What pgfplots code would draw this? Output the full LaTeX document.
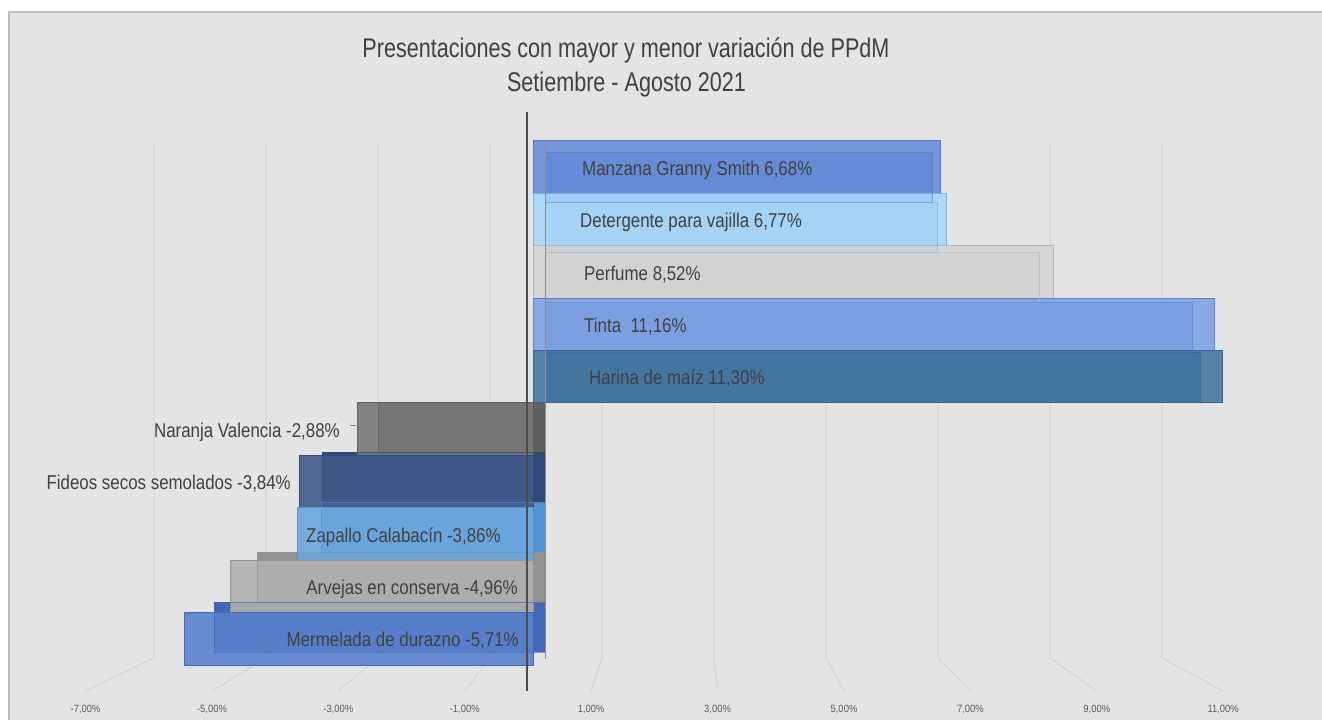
\documentclass[border=0pt]{standalone}
\usepackage{pgfplots}
\pgfplotsset{compat=1.18}
\usepackage{fontspec}
\setmainfont{Liberation Sans}
\newfontfamily\titlefont{Liberation Sans}[FakeStretch=0.8]
\newfontfamily\labfont{Liberation Sans}[FakeStretch=0.845]
\newfontfamily\tickfont{Liberation Sans}[FakeStretch=0.9]

\definecolor{bg}{HTML}{E4E4E4}
\definecolor{frm}{HTML}{BDBDBD}
\definecolor{gridc}{HTML}{D5D5D5}
\definecolor{txt}{HTML}{404040}
\definecolor{ticktxt}{HTML}{595959}
\definecolor{mzF}{HTML}{6A8FD9}\definecolor{mzD}{HTML}{5275C6}
\definecolor{deF}{HTML}{A9D7F8}\definecolor{deD}{HTML}{78B6EA}
\definecolor{peF}{HTML}{D5D5D5}\definecolor{peD}{HTML}{B8B8B8}
\definecolor{tiF}{HTML}{80A3E4}\definecolor{tiD}{HTML}{5C82D2}
\definecolor{haF}{HTML}{4678A3}\definecolor{haD}{HTML}{34638F}
\definecolor{naF}{HTML}{787878}\definecolor{naD}{HTML}{5F5F5F}
\definecolor{fiF}{HTML}{405B89}\definecolor{fiD}{HTML}{304B7A}
\definecolor{zaF}{HTML}{6CA8DE}\definecolor{zaD}{HTML}{5393D2}
\definecolor{arF}{HTML}{B0B0B0}\definecolor{arD}{HTML}{939393}
\definecolor{meF}{HTML}{5A82CC}\definecolor{meD}{HTML}{4468B6}

\pgfplotsset{
  barax/.style={scale only axis, hide axis, clip=false,
    xmin=-8.590, xmax=12.934, ymin=-1.5553, ymax=11.956},
  bb/.style={xbar, bar width=1, bar shift=0pt},
}
\tikzset{lab/.style={font=\labfont\fontsize{20}{24}\selectfont, text=txt, inner sep=0pt, yshift=-8.5pt}}

\begin{document}
\begin{tikzpicture}[x=1pt,y=1pt]
\useasboundingbox (0,0) rectangle (1322,720);
\fill[white] (0,0) rectangle (1322,720);
\fill[bg] (9,0) rectangle (1322,708);
\draw[frm, line width=1.5pt] (9,0) -- (9,708) -- (1322,708);

% title
\node[anchor=base, font=\titlefont\fontsize{27}{32}\selectfont, text=txt, inner sep=0pt] at (626,662.3) {Presentaciones con mayor y menor variación de PPdM};
\node[anchor=base, font=\titlefont\fontsize{27}{32}\selectfont, text=txt, inner sep=0pt] at (626.5,628.3) {Setiembre - Agosto 2021};

% 3D wall gridlines
\foreach \v in {-7,-5,...,11}{
  \draw[gridc, line width=1pt] ({546+56*\v},575) -- ({546+56*\v},62) -- ({528+63.2*\v},29);
}

% back faces (depth)
\begin{axis}[barax, at={(46.8pt,15.2pt)}, anchor=south west, width=1248.4pt, height=674.8pt]
\addplot[bb, fill=mzD, draw=none] coordinates {(6.68,9)};
\addplot[bb, fill=deD, draw=none] coordinates {(6.77,8)};
\addplot[bb, fill=peD, draw=none] coordinates {(8.52,7)};
\addplot[bb, fill=tiD, draw=none] coordinates {(11.16,6)};
\addplot[bb, fill=haD, draw=none] coordinates {(11.30,5)};
\addplot[bb, fill=naD, draw=none] coordinates {(-2.88,4)};
\addplot[bb, fill=fiD, draw=none] coordinates {(-3.84,3)};
\addplot[bb, fill=zaD, draw=none] coordinates {(-3.86,2)};
\addplot[bb, fill=arD, draw=none] coordinates {(-4.96,1)};
\addplot[bb, fill=meD, draw=none] coordinates {(-5.71,0)};
\end{axis}

% front faces
\begin{axis}[barax, at={(9pt,0pt)}, anchor=south west, width=1313pt, height=708pt]
\addplot[bb, fill=mzF, draw=mzD, fill opacity=0.9] coordinates {(6.68,9)};
\addplot[bb, fill=deF, draw=deD, fill opacity=0.9] coordinates {(6.77,8)};
\addplot[bb, fill=peF, draw=peD, fill opacity=0.9] coordinates {(8.52,7)};
\addplot[bb, fill=tiF, draw=tiD, fill opacity=0.9] coordinates {(11.16,6)};
\addplot[bb, fill=haF, draw=haD, fill opacity=0.9] coordinates {(11.30,5)};
\addplot[bb, fill=naF, draw=naD, fill opacity=0.9] coordinates {(-2.88,4)};
\addplot[bb, fill=fiF, draw=fiD, fill opacity=0.9] coordinates {(-3.84,3)};
\addplot[bb, fill=zaF, draw=zaD, fill opacity=0.9] coordinates {(-3.86,2)};
\addplot[bb, fill=arF, draw=arD, fill opacity=0.9] coordinates {(-4.96,1)};
\addplot[bb, fill=meF, draw=meD, fill opacity=0.9] coordinates {(-5.71,0)};
\node[lab, anchor=base west] at (axis cs:0.803,9) {Manzana Granny Smith 6,68\%};
\node[lab, anchor=base west] at (axis cs:0.770,8) {Detergente para vajilla 6,77\%};
\node[lab, anchor=base west] at (axis cs:0.836,7) {Perfume 8,52\%};
\node[lab, anchor=base west] at (axis cs:0.836,6) {Tinta\ \ 11,16\%};
\node[lab, anchor=base west] at (axis cs:0.918,5) {Harina de maíz 11,30\%};
\node[lab, anchor=base east] at (axis cs:-3.164,4) {Naranja Valencia -2,88\%};
\node[lab, anchor=base east] at (axis cs:-3.967,3) {Fideos secos semolados -3,84\%};
\node[lab, anchor=base west] at (axis cs:-3.721,2) {Zapallo Calabacín -3,86\%};
\node[lab, anchor=base east] at (axis cs:-0.246,1) {Arvejas en conserva -4,96\%};
\node[lab, anchor=base east] at (axis cs:-0.230,0) {Mermelada de durazno -5,71\%};
\end{axis}

% back edges seen through
\begin{axis}[barax, at={(46.8pt,15.2pt)}, anchor=south west, width=1248.4pt, height=674.8pt]
\addplot[bb, fill=none, draw=mzD, draw opacity=0.6] coordinates {(6.68,9)};
\addplot[bb, fill=none, draw=deD, draw opacity=0.6] coordinates {(6.77,8)};
\addplot[bb, fill=none, draw=peD, draw opacity=0.6] coordinates {(8.52,7)};
\addplot[bb, fill=none, draw=tiD, draw opacity=0.6] coordinates {(11.16,6)};
\addplot[bb, fill=none, draw=haD, draw opacity=0.6] coordinates {(11.30,5)};
\addplot[bb, fill=none, draw=naD, draw opacity=0.6] coordinates {(-2.88,4)};
\addplot[bb, fill=none, draw=fiD, draw opacity=0.6] coordinates {(-3.84,3)};
\addplot[bb, fill=none, draw=zaD, draw opacity=0.6] coordinates {(-3.86,2)};
\addplot[bb, fill=none, draw=arD, draw opacity=0.6] coordinates {(-4.96,1)};
\addplot[bb, fill=none, draw=meD, draw opacity=0.6] coordinates {(-5.71,0)};
\end{axis}

% leader of Naranja label
\draw[gray, line width=0.8pt] (350,295) -- (356,295);
% zero lines
\draw[black!45, line width=1pt] (545,580) -- (545,61);
\draw[black!70, line width=1.6pt] (527,608) -- (527,29);

% floor tick labels
\begin{axis}[at={(9pt,10pt)}, anchor=south west, scale only axis, width=1313pt, height=10pt,
  xmin=-8.2120, xmax=12.5633, ymin=0, ymax=1,
  axis line style={draw=none}, major tick style={draw=none}, ytick=\empty,
  xtick={-7,-5,...,11},
  xticklabels={{-7,00\%},{-5,00\%},{-3,00\%},{-1,00\%},{1,00\%},{3,00\%},{5,00\%},{7,00\%},{9,00\%},{11,00\%}},
  xticklabel style={anchor=center, font=\tickfont\fontsize{10.5}{12}\selectfont, text=ticktxt}]
\addplot[draw=none] coordinates {(0,0)};
\end{axis}
\end{tikzpicture}
\end{document}
